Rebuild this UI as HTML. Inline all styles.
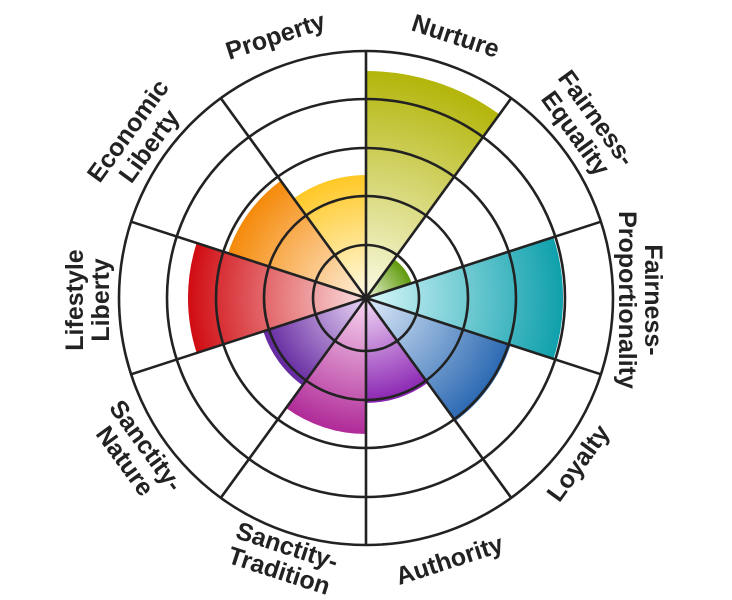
<!DOCTYPE html>
<html><head><meta charset="utf-8"><style>
html,body{margin:0;padding:0;background:#fff;width:732px;height:600px;overflow:hidden}
text{font-family:"Liberation Sans",sans-serif;font-weight:bold;font-size:25px;fill:#222;text-anchor:middle}
</style></head><body>
<svg width="732" height="600" viewBox="0 0 732 600" xmlns="http://www.w3.org/2000/svg">
<defs>
<radialGradient id="g1" gradientUnits="userSpaceOnUse" cx="366" cy="298" r="227"><stop offset="0" stop-color="#fbfbe6"/><stop offset="1" stop-color="#b3b50a"/></radialGradient>
<radialGradient id="g2" gradientUnits="userSpaceOnUse" cx="366" cy="298" r="48"><stop offset="0" stop-color="#eef6d6"/><stop offset="1" stop-color="#5f9a0c"/></radialGradient>
<radialGradient id="g3" gradientUnits="userSpaceOnUse" cx="366" cy="298" r="197"><stop offset="0" stop-color="#d8f8fb"/><stop offset="1" stop-color="#0fa0ac"/></radialGradient>
<radialGradient id="g4" gradientUnits="userSpaceOnUse" cx="366" cy="298" r="152"><stop offset="0" stop-color="#e0ecfa"/><stop offset="1" stop-color="#2a68b2"/></radialGradient>
<radialGradient id="g5" gradientUnits="userSpaceOnUse" cx="366" cy="298" r="105"><stop offset="0" stop-color="#f3dcf7"/><stop offset="1" stop-color="#8a24b2"/></radialGradient>
<radialGradient id="g6" gradientUnits="userSpaceOnUse" cx="366" cy="298" r="136"><stop offset="0" stop-color="#f8d8f0"/><stop offset="1" stop-color="#b02a98"/></radialGradient>
<radialGradient id="g7" gradientUnits="userSpaceOnUse" cx="366" cy="298" r="108"><stop offset="0" stop-color="#ead8f6"/><stop offset="1" stop-color="#6428a0"/></radialGradient>
<radialGradient id="g8" gradientUnits="userSpaceOnUse" cx="366" cy="298" r="178"><stop offset="0" stop-color="#fbe0e0"/><stop offset="1" stop-color="#d00c12"/></radialGradient>
<radialGradient id="g9" gradientUnits="userSpaceOnUse" cx="366" cy="298" r="145"><stop offset="0" stop-color="#fff0dc"/><stop offset="1" stop-color="#f58a0a"/></radialGradient>
<radialGradient id="g10" gradientUnits="userSpaceOnUse" cx="366" cy="298" r="123"><stop offset="0" stop-color="#fffbe8"/><stop offset="1" stop-color="#ffc825"/></radialGradient>
</defs>
<path d="M366 298 L366 71 A227 227 0 0 1 499.4 114.4 Z" fill="url(#g1)"/>
<path d="M366 298 L394.2 259.2 A48 48 0 0 1 411.7 283.2 Z" fill="url(#g2)"/>
<path d="M366 298 L553.4 237.1 A197 197 0 0 1 553.4 358.9 Z" fill="url(#g3)"/>
<path d="M366 298 L510.6 345 A152 152 0 0 1 455.3 421 Z" fill="url(#g4)"/>
<path d="M366 298 L427.7 382.9 A105 105 0 0 1 366 403 Z" fill="url(#g5)"/>
<path d="M366 298 L366 434 A136 136 0 0 1 286.1 408 Z" fill="url(#g6)"/>
<path d="M366 298 L302.5 385.4 A108 108 0 0 1 263.3 331.4 Z" fill="url(#g7)"/>
<path d="M366 298 L196.7 353 A178 178 0 0 1 196.7 243 Z" fill="url(#g8)"/>
<path d="M366 298 L228.1 253.2 A145 145 0 0 1 280.8 180.7 Z" fill="url(#g9)"/>
<path d="M366 298 L293.7 198.5 A123 123 0 0 1 366 175 Z" fill="url(#g10)"/>
<g fill="none" stroke="#222" stroke-width="2.6">
<circle cx="366" cy="298" r="247"/>
<circle cx="366" cy="298" r="199"/>
<circle cx="366" cy="298" r="150"/>
<circle cx="366" cy="298" r="102"/>
<circle cx="366" cy="298" r="53"/>
<path d="M366 298L366 51M366 298L511.2 98.2M366 298L600.9 221.7M366 298L600.9 374.3M366 298L511.2 497.8M366 298L366 545M366 298L220.8 497.8M366 298L131.1 374.3M366 298L131.1 221.7M366 298L220.8 98.2"/>
</g>
<text transform="translate(278,44) rotate(-18)">Property</text>
<text transform="translate(453,44) rotate(18)">Nurture</text>
<text transform="translate(580,130) rotate(54)"><tspan x="0" y="-12">Fairness-</tspan><tspan x="0" y="14">Equality</tspan></text>
<text transform="translate(641,300) rotate(90)"><tspan x="0" y="-4">Fairness-</tspan><tspan x="0" y="22">Proportionality</tspan></text>
<text transform="translate(585,468) rotate(-54)">Loyalty</text>
<text transform="translate(452,568) rotate(-18)">Authority</text>
<text transform="translate(284,556) rotate(18)"><tspan x="0" y="-2">Sanctity-</tspan><tspan x="0" y="24">Tradition</tspan></text>
<text transform="translate(136,453) rotate(54)"><tspan x="0" y="-4">Sanctity-</tspan><tspan x="0" y="22">Nature</tspan></text>
<text transform="translate(87,300) rotate(-90)"><tspan x="0" y="-4">Lifestyle</tspan><tspan x="0" y="22">Liberty</tspan></text>
<text transform="translate(138,138) rotate(-54)"><tspan x="0" y="-4">Economic</tspan><tspan x="0" y="22">Liberty</tspan></text>
</svg>
</body></html>
